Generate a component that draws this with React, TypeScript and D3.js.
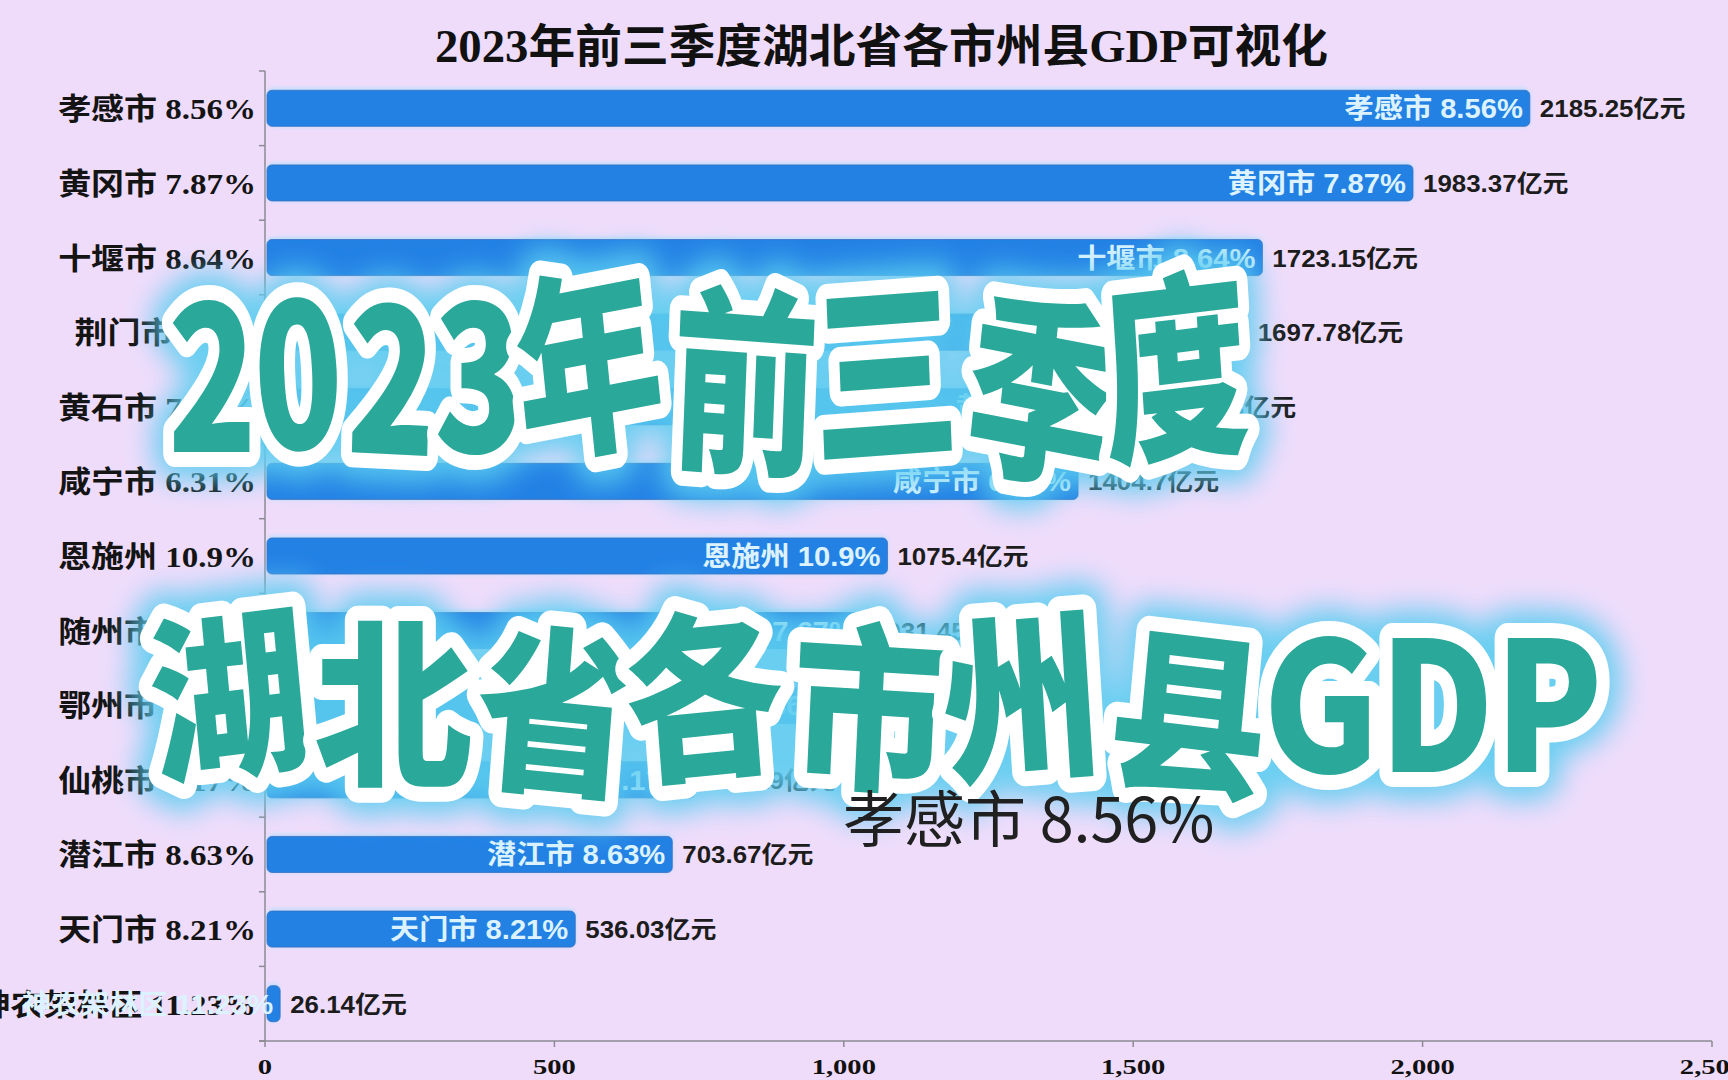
import React from "react";
import * as d3 from "d3";

const cities = ["孝感市", "黄冈市", "十堰市", "荆门市", "黄石市", "咸宁市", "恩施州", "随州市", "鄂州市", "仙桃市", "潜江市", "天门市", "神农架林区"];
const gdp = [2185.25, 1983.37, 1723.15, 1697.78, 1512.83, 1404.7, 1075.4, 1031.45, 985.2, 742.29, 703.67, 536.03, 26.14];
const growth = [8.56, 7.87, 8.64, 6.3, 7.02, 6.31, 10.9, 7.67, 6.86, 7.17, 8.63, 8.21, 11.23];
const xTicks = [0, 500, 1000, 1500, 2000, 2500];

const titleText = "2023年前三季度湖北省各市州县GDP可视化";
const overlayLine1 = "2023年前三季度";
const overlayLine2 = "湖北省各市州县GDP";
const highlightText = "孝感市 8.56%";
const rot1 = [0, -3, 2, 0, -8, 3, -3, 8, -5];
const rot2 = [-6, 0, 5, -5, 3, -4, 6, 0, 0, 0];

const W = 1728;
const H = 1080;
const SERIF = "'Liberation Serif','Noto Sans CJK SC',serif";
const SANS = "'Liberation Sans','Noto Sans CJK SC',sans-serif";
const CJK = "'Noto Sans CJK SC','Noto Sans',sans-serif";

export default function App() {
  const x = d3.scaleLinear().domain([0, 2500]).range([265, 1712]);
  const y = d3
    .scaleBand<string>()
    .domain(cities)
    .range([71, 1041])
    .paddingInner(0.517)
    .paddingOuter(0.2585);
  const step = y.step();
  const bw = y.bandwidth();
  const [y0, y1] = y.range();
  const boundaries = d3.range(cities.length + 1).map((i) => y0 + i * step);
  const fmt = d3.format(",");
  const axisColor = "#8d8a92";

  const overlayText = (txt: string, rots: number[], xs: number, len: number, base: number, fs: number) => {
    const common = {
      x: xs,
      y: base,
      textLength: len,
      lengthAdjust: "spacingAndGlyphs" as const,
      rotate: rots.join(" "),
      fontFamily: CJK,
      fontWeight: 900,
      fontSize: fs,
    };
    return (
      <g>
        <text {...common} fill="#5ccdf0" stroke="#5ccdf0" strokeWidth={56} strokeLinejoin="round" filter="url(#glow)" opacity={0.9}>
          {txt}
        </text>
        <text {...common} fill="#2aa89a" stroke="#ffffff" strokeWidth={30} strokeLinejoin="round" paintOrder="stroke">
          {txt}
        </text>
      </g>
    );
  };

  return (
    <svg
      width={W}
      height={H}
      viewBox={`0 0 ${W} ${H}`}
      style={{ position: "absolute", left: 0, top: 0, display: "block" }}
    >
      <defs>
        <filter id="glow" x="-20%" y="-50%" width="140%" height="200%">
          <feGaussianBlur stdDeviation="14" />
        </filter>
        <filter id="barGlow" x="-5%" y="-40%" width="110%" height="180%">
          <feGaussianBlur stdDeviation="2" />
        </filter>
      </defs>
      <rect x={0} y={0} width={W} height={H} fill="#efdcfb" />

      {/* title */}
      <text
        x={435}
        y={62}
        textLength={893}
        lengthAdjust="spacingAndGlyphs"
        fontFamily={SERIF}
        fontWeight="bold"
        fontSize={46}
        fill="#111"
      >
        {titleText}
      </text>

      {/* left axis */}
      <line x1={265} x2={265} y1={y0} y2={y1} stroke={axisColor} strokeWidth={1.5} />
      {boundaries.map((b, i) => (
        <line key={"lt" + i} x1={259} x2={265} y1={b} y2={b} stroke={axisColor} strokeWidth={1.5} />
      ))}

      {/* bottom axis */}
      <line x1={259} x2={x(2500)} y1={y1} y2={y1} stroke={axisColor} strokeWidth={1.5} />
      {xTicks.map((t) => (
        <g key={"bt" + t}>
          <line x1={x(t)} x2={x(t)} y1={y1} y2={y1 + 6} stroke={axisColor} strokeWidth={1.5} />
          <text
            transform={`translate(${x(t)},${y1 + 33}) scale(1.3,1)`}
            textAnchor="middle"
            fontFamily={SERIF}
            fontWeight="bold"
            fontSize={22}
            fill="#111"
          >
            {fmt(t)}
          </text>
        </g>
      ))}

      {/* bars */}
      {cities.map((c, i) => {
        const top = y(c) as number;
        const cy = top + bw / 2;
        const xe = x(gdp[i]);
        return (
          <g key={c}>
            <rect x={267} y={top - 2} width={xe - 267} height={bw + 2} rx={6} fill="#8fe0ff" opacity={0.6} filter="url(#barGlow)" />
            <rect x={267} y={top} width={xe - 267} height={bw} rx={5} fill="#2381e4" stroke="#3a6fbf" strokeWidth={0.8} />
            <text
              transform={`translate(${256},${cy + 11}) scale(1.1,1)`}
              textAnchor="end"
              fontFamily={SERIF}
              fontWeight="bold"
              fontSize={30}
              fill="#141414"
            >
              {`${c} ${growth[i]}%`}
            </text>
            <text
              transform={`translate(${xe - 7},${cy + 10}) scale(1.08,1)`}
              textAnchor="end"
              fontFamily={SANS}
              fontWeight="bold"
              fontSize={27}
              fill="#dcf3ff"
            >
              {`${c} ${growth[i]}%`}
            </text>
            <text
              transform={`translate(${xe + 10},${cy + 9}) scale(1.08,1)`}
              textAnchor="start"
              fontFamily={SANS}
              fontWeight="bold"
              fontSize={24}
              fill="#1c1c1c"
            >
              {`${gdp[i]}亿元`}
            </text>
          </g>
        );
      })}

      {/* overlay promo text */}
      {overlayText(overlayLine1, rot1, 168, 1085, 452, 200)}
      {overlayText(overlayLine2, rot2, 156, 1447, 772, 180)}

      <text x={843} y={842} fontFamily={CJK} fontSize={61} fill="#202020">
        {highlightText}
      </text>
    </svg>
  );
}
